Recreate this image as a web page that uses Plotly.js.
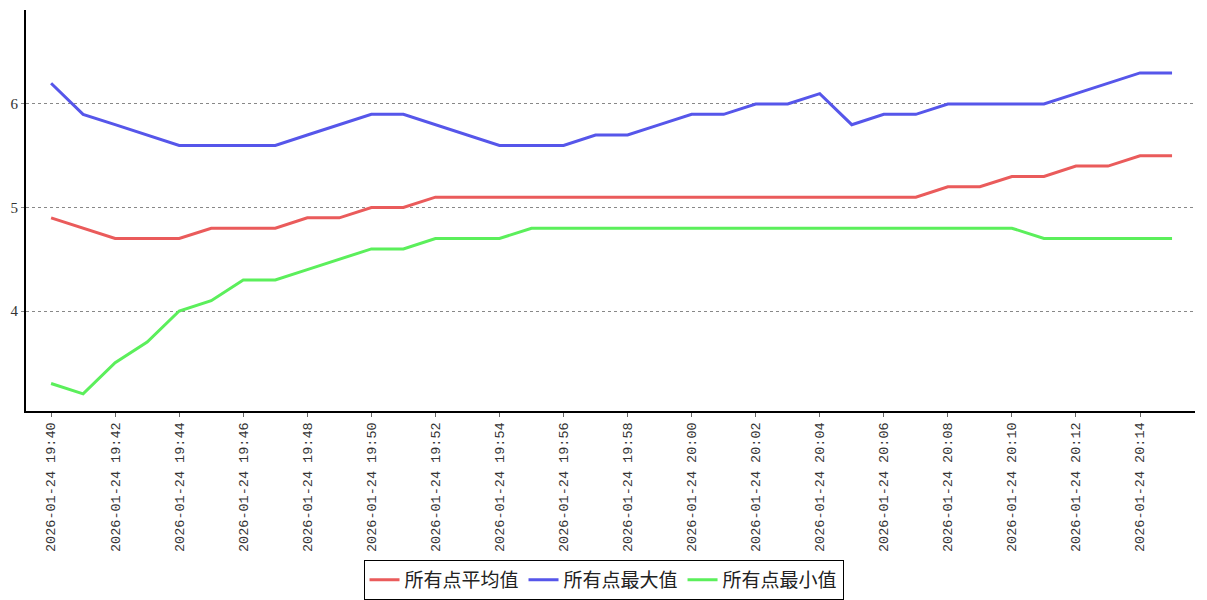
<!DOCTYPE html>
<html><head><meta charset="utf-8">
<script src="https://cdn.plot.ly/plotly-3.0.1.min.js"></script>
<style>html,body{margin:0;padding:0;background:#fff}#chart{width:1207px;height:600px}</style>
</head><body><div id="chart"></div>
<script>
const times = ['19:40','19:41','19:42','19:43','19:44','19:45','19:46','19:47','19:48','19:49',
  '19:50','19:51','19:52','19:53','19:54','19:55','19:56','19:57','19:58','19:59',
  '20:00','20:01','20:02','20:03','20:04','20:05','20:06','20:07','20:08','20:09',
  '20:10','20:11','20:12','20:13','20:14','20:15'];
const datePart = '2026-01-24';
const avgVals = [4.9,4.8,4.7,4.7,4.7,4.8,4.8,4.8,4.9,4.9,
  5.0,5.0,5.1,5.1,5.1,5.1,5.1,5.1,5.1,5.1,
  5.1,5.1,5.1,5.1,5.1,5.1,5.1,5.1,5.2,5.2,
  5.3,5.3,5.4,5.4,5.5,5.5];
const maxVals = [6.2,5.9,5.8,5.7,5.6,5.6,5.6,5.6,5.7,5.8,
  5.9,5.9,5.8,5.7,5.6,5.6,5.6,5.7,5.7,5.8,
  5.9,5.9,6.0,6.0,6.1,5.8,5.9,5.9,6.0,6.0,
  6.0,6.0,6.1,6.2,6.3,6.3];
const minVals = [3.3,3.2,3.5,3.7,4.0,4.1,4.3,4.3,4.4,4.5,
  4.6,4.6,4.7,4.7,4.7,4.8,4.8,4.8,4.8,4.8,
  4.8,4.8,4.8,4.8,4.8,4.8,4.8,4.8,4.8,4.8,
  4.8,4.7,4.7,4.7,4.7,4.7];
const seriesNames = ['所有点平均值','所有点最大值','所有点最小值'];
const colors = ['#ea5b5b','#5656ea','#5bef5b'];

const x = times.map(t => datePart + ' ' + t);
const vals = [avgVals, maxVals, minVals];
const traces = vals.map((v,i) => ({
  type:'scatter', mode:'lines', x:x, y:v, name:seriesNames[i],
  line:{color:colors[i], width:3}
}));

const layout = {
  width:1207, height:600,
  margin:{l:26, r:12, t:10, b:189},
  paper_bgcolor:'#fff', plot_bgcolor:'#fff',
  font:{family:'"Noto Sans CJK SC", "DejaVu Sans", sans-serif', color:'#333'},
  showlegend:true,
  legend:{orientation:'h', x:0.5, xanchor:'center', xref:'container',
    y:0.0, yanchor:'bottom', yref:'container',
    bordercolor:'#000', borderwidth:1, bgcolor:'#fff',
    font:{size:19, color:'#222', family:'"Noto Sans CJK SC", sans-serif'},
    itemwidth:30, tracegroupgap:0},
  xaxis:{type:'date',
    range:[datePart+' 19:39:13', datePart+' 20:15:43'],
    tick0:datePart+' 19:40', dtick:120000,
    tickformat:'%Y-%m-%d %H:%M', tickangle:-90,
    tickfont:{size:13.5, family:'"Liberation Mono", monospace', color:'#333'},
    ticks:'outside', ticklen:4, tickcolor:'#666',
    showline:true, linecolor:'#000', linewidth:2,
    showgrid:false, zeroline:false},
  yaxis:{range:[3.034, 6.908], dtick:1, tick0:0,
    tickfont:{size:15, family:'"Liberation Serif", serif', color:'#333'},
    ticks:'outside', ticklen:3, tickcolor:'#888',
    showline:true, linecolor:'#000', linewidth:2,
    showgrid:true, gridcolor:'#888', griddash:'dot', gridwidth:1,
    zeroline:false}
};
Plotly.newPlot('chart', traces, layout, {displayModeBar:false, staticPlot:true});
</script></body></html>
